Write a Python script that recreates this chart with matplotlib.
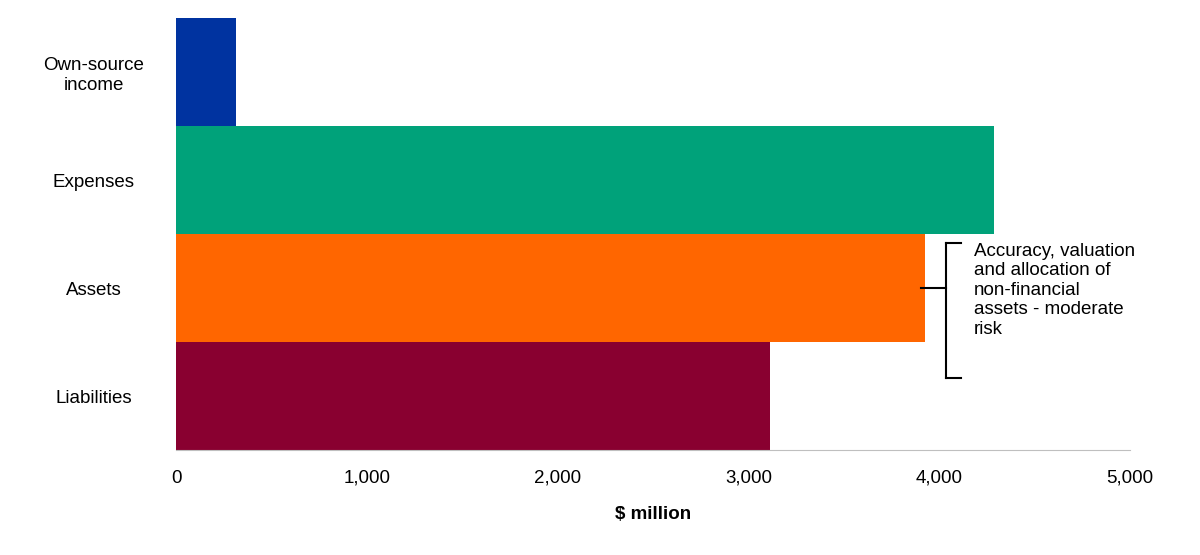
import matplotlib.pyplot as plt

categories = ['Own-source\nincome', 'Expenses', 'Assets', 'Liabilities']
values = [315, 4286, 3924, 3111]
colors = ['#0033A0', '#00A27A', '#FF6600', '#890030']
xticks = [0, 1000, 2000, 3000, 4000, 5000]
note = 'Accuracy, valuation\nand allocation of\nnon-financial\nassets - moderate\nrisk'

plt.rcParams['font.family'] = ['Liberation Sans', 'DejaVu Sans']

fig = plt.figure(figsize=(12, 5.55), dpi=100)
ax = fig.add_axes([0.1467, 0.189, 0.795, 0.7786])

ax.barh(range(len(categories)), values, height=1.0, color=colors)
ax.set_ylim(3.5, -0.5)
ax.set_xlim(0, 5000)
ax.set_yticks(range(len(categories)))
ax.set_yticklabels(categories, fontsize=13.5)
ax.set_xticks(xticks)
ax.set_xticklabels([f'{v:,}' for v in xticks], fontsize=13.5)
ax.tick_params(length=0, pad=14)
ax.tick_params(axis='y', pad=25)
for lab in ax.get_yticklabels():
    lab.set_horizontalalignment('center')
    lab.set_x(-0.05)
for s in ['top', 'right', 'left']:
    ax.spines[s].set_visible(False)
ax.spines['bottom'].set_color('#BFBFBF')
ax.set_xlabel('$ million', fontsize=13.5, fontweight='bold', labelpad=14)

# bracket next to Assets bar
bx, top, bot = 4035, 1.583, 2.833
kw = dict(color='black', lw=1.5, clip_on=False)
ax.plot([bx, bx], [top, bot], **kw)
ax.plot([bx, 4114], [top, top], **kw)
ax.plot([bx, 4114], [bot, bot], **kw)
ax.plot([3903, bx], [2, 2], **kw)
ax.text(4181, 1.58, note, fontsize=13.5, va='top', ha='left', linespacing=1.2)

fig.savefig('out.png', dpi=100)
